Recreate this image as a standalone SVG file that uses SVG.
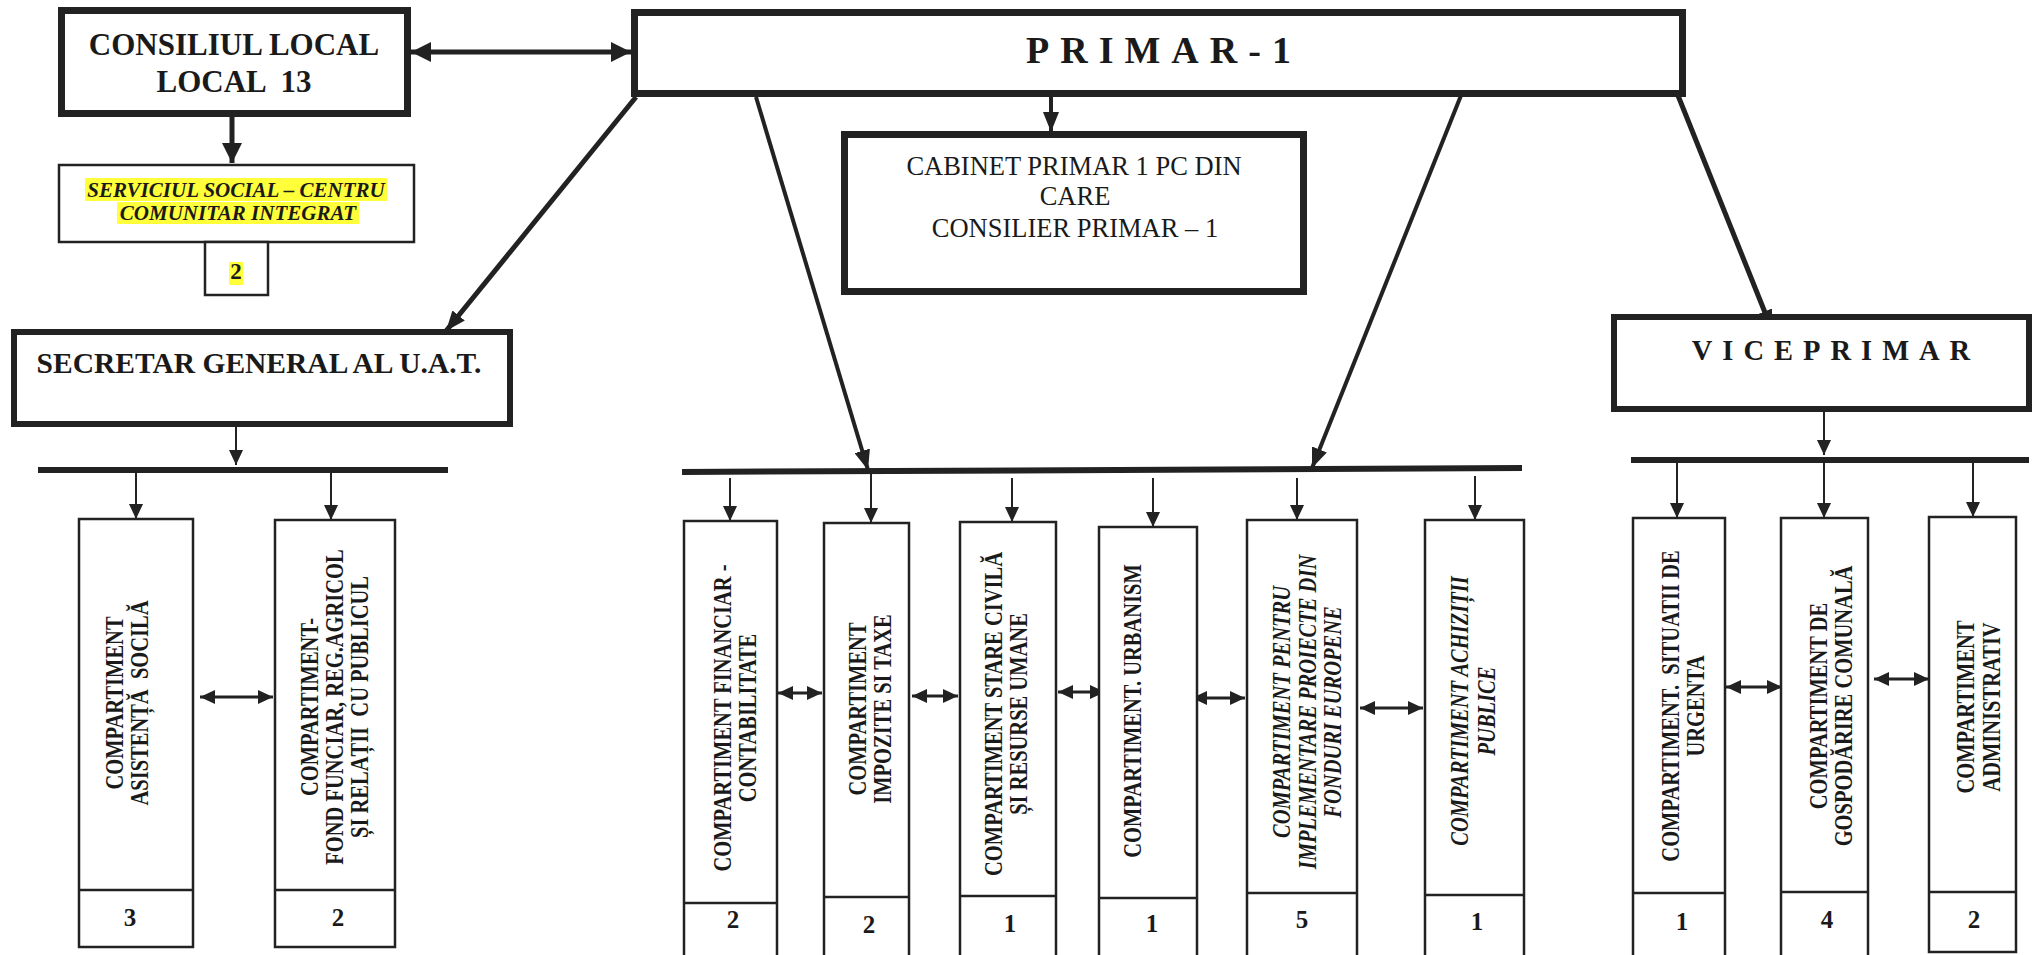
<svg xmlns="http://www.w3.org/2000/svg" width="2034" height="955" viewBox="0 0 2034 955">
<style>
.t{font-family:"Liberation Serif","Times New Roman",serif;fill:#1a1a1a}
.b{font-weight:bold}
.i{font-style:italic}
.pre{white-space:pre}
.v{font-size:25px;font-weight:bold}
.bx7{fill:#fff;stroke:#222;stroke-width:7}
.bx6{fill:#fff;stroke:#222;stroke-width:6}
.bx2{fill:#fff;stroke:#222;stroke-width:2.5}
.ln{stroke:#222;fill:none}
.hl{fill:#ffff3a}
</style>
<defs>
<marker id="mA" viewBox="0 0 15 14" refX="15" refY="7" markerWidth="15" markerHeight="14" markerUnits="userSpaceOnUse" orient="auto-start-reverse"><path d="M0,0L15,7L0,14z" fill="#222"/></marker>
<marker id="mB" viewBox="0 0 20 20" refX="20" refY="10" markerWidth="20" markerHeight="20" markerUnits="userSpaceOnUse" orient="auto-start-reverse"><path d="M0,0L20,10L0,20z" fill="#222"/></marker>
<marker id="mC" viewBox="0 0 20 16" refX="20" refY="8" markerWidth="20" markerHeight="16" markerUnits="userSpaceOnUse" orient="auto-start-reverse"><path d="M0,0L20,8L0,16z" fill="#222"/></marker>
</defs>
<rect width="2034" height="955" fill="#fff"/>

<g id="connectors">
  <line class="ln" x1="411" y1="52" x2="631" y2="52" stroke-width="5" marker-start="url(#mB)" marker-end="url(#mB)"/>
  <line class="ln" x1="232" y1="117" x2="232" y2="163" stroke-width="5" marker-end="url(#mB)"/>
  <line class="ln" x1="1051" y1="96" x2="1051" y2="132" stroke-width="4" marker-end="url(#mC)"/>
  <line class="ln" x1="636" y1="97" x2="446" y2="331" stroke-width="5" marker-end="url(#mC)"/>
  <line class="ln" x1="756" y1="97" x2="868" y2="470" stroke-width="4" marker-end="url(#mC)"/>
  <line class="ln" x1="1462" y1="93" x2="1312" y2="468" stroke-width="4" marker-end="url(#mC)"/>
  <line class="ln" x1="1677" y1="93" x2="1772" y2="330" stroke-width="5" marker-end="url(#mC)"/>
  <line class="ln" x1="236" y1="427" x2="236" y2="465" stroke-width="2" marker-end="url(#mA)"/>
  <line class="ln" x1="1824" y1="412" x2="1824" y2="455" stroke-width="2" marker-end="url(#mA)"/>
  <line class="ln" x1="38" y1="470" x2="448" y2="470" stroke-width="6"/>
  <line class="ln" x1="682" y1="472" x2="1522" y2="468" stroke-width="6"/>
  <line class="ln" x1="1631" y1="460" x2="2029" y2="460" stroke-width="6"/>
  <g stroke-width="2" class="ln">
    <line x1="136" y1="473" x2="136" y2="519" marker-end="url(#mA)"/>
    <line x1="331" y1="473" x2="331" y2="520" marker-end="url(#mA)"/>
    <line x1="730" y1="478" x2="730" y2="521" marker-end="url(#mA)"/>
    <line x1="871" y1="472" x2="871" y2="523" marker-end="url(#mA)"/>
    <line x1="1012" y1="478" x2="1012" y2="522" marker-end="url(#mA)"/>
    <line x1="1153" y1="478" x2="1153" y2="527" marker-end="url(#mA)"/>
    <line x1="1297" y1="478" x2="1297" y2="520" marker-end="url(#mA)"/>
    <line x1="1475" y1="476" x2="1475" y2="520" marker-end="url(#mA)"/>
    <line x1="1677" y1="463" x2="1677" y2="518" marker-end="url(#mA)"/>
    <line x1="1824" y1="463" x2="1824" y2="518" marker-end="url(#mA)"/>
    <line x1="1973" y1="463" x2="1973" y2="517" marker-end="url(#mA)"/>
  </g>
  <g stroke-width="3" class="ln">
    <line x1="200" y1="697" x2="273" y2="697" marker-start="url(#mA)" marker-end="url(#mA)"/>
    <line x1="778" y1="693" x2="822" y2="693" marker-start="url(#mA)" marker-end="url(#mA)"/>
    <line x1="912" y1="696" x2="958" y2="696" marker-start="url(#mA)" marker-end="url(#mA)"/>
    <line x1="1058" y1="692" x2="1105" y2="692" marker-start="url(#mA)" marker-end="url(#mA)"/>
    <line x1="1192" y1="698" x2="1245" y2="698" marker-start="url(#mA)" marker-end="url(#mA)"/>
    <line x1="1360" y1="708" x2="1423" y2="708" marker-start="url(#mA)" marker-end="url(#mA)"/>
    <line x1="1726" y1="687" x2="1782" y2="687" marker-start="url(#mA)" marker-end="url(#mA)"/>
    <line x1="1874" y1="679" x2="1929" y2="679" marker-start="url(#mA)" marker-end="url(#mA)"/>
  </g>
</g>

<g id="consiliul">
  <rect class="bx7" x="61.5" y="10.5" width="346" height="103"/>
  <text class="t b pre" x="234" y="55" font-size="31" text-anchor="middle">CONSILIUL LOCAL</text>
  <text class="t b pre" x="234" y="92" font-size="31" text-anchor="middle">LOCAL  13</text>
</g>

<g id="serviciul">
  <rect class="bx2" x="59" y="165" width="355" height="77" stroke-width="2"/>
  <rect class="hl" x="85" y="178" width="302" height="23"/>
  <rect class="hl" x="117" y="202" width="242" height="22"/>
  <text class="t b i" x="236" y="197" font-size="21" text-anchor="middle">SERVICIUL SOCIAL – CENTRU</text>
  <text class="t b i" x="238" y="220" font-size="21" text-anchor="middle">COMUNITAR INTEGRAT</text>
</g>

<g id="serviciul-nr">
  <rect class="bx2" x="205" y="242" width="63" height="53" stroke-width="2"/>
  <rect class="hl" x="229" y="262" width="14" height="23"/>
  <text class="t b" x="236" y="279" font-size="23" text-anchor="middle">2</text>
</g>

<g id="primar">
  <rect class="bx7" x="634.5" y="12.5" width="1048" height="81"/>
  <text class="t b" x="1164" y="63" font-size="38" letter-spacing="11" text-anchor="middle">PRIMAR-1</text>
</g>

<g id="cabinet">
  <rect class="bx7" x="844.5" y="134.5" width="459" height="157"/>
  <text class="t" x="1074" y="175" font-size="26.5" text-anchor="middle">CABINET PRIMAR 1 PC DIN</text>
  <text class="t" x="1075" y="205" font-size="26.5" text-anchor="middle">CARE</text>
  <text class="t" x="1075" y="237" font-size="26.5" text-anchor="middle">CONSILIER PRIMAR – 1</text>
</g>

<g id="secretar">
  <rect class="bx6" x="14" y="332" width="496" height="92"/>
  <text class="t b" x="259" y="373" font-size="29.5" text-anchor="middle">SECRETAR GENERAL AL U.A.T.</text>
</g>

<g id="viceprimar">
  <rect class="bx6" x="1614" y="317" width="415" height="92"/>
  <text class="t b" x="1836" y="360" font-size="28.5" letter-spacing="10" text-anchor="middle">VICEPRIMAR</text>
</g>

<g id="asistenta">
  <rect class="bx2" x="79" y="519" width="114" height="428"/>
  <line class="ln" x1="79" y1="890" x2="193" y2="890" stroke-width="2.5"/>
  <text class="t v pre" text-anchor="middle" transform="translate(136,703) rotate(-90) scale(0.82,1)"><tspan x="0" y="-13">COMPARTIMENT</tspan><tspan x="0" y="12">ASISTENȚĂ  SOCILĂ</tspan></text>
  <text class="t b" x="130" y="926" font-size="25" text-anchor="middle">3</text>
</g>

<g id="fond-funciar">
  <rect class="bx2" x="275" y="520" width="120" height="427"/>
  <line class="ln" x1="275" y1="890" x2="395" y2="890" stroke-width="2.5"/>
  <text class="t v pre" text-anchor="middle" transform="translate(335,707) rotate(-90) scale(0.82,1)"><tspan x="0" y="-17">COMPARTIMENT-</tspan><tspan x="0" y="8">FOND FUNCIAR, REG.AGRICOL</tspan><tspan x="0" y="33">ȘI RELAȚII  CU PUBLICUL</tspan></text>
  <text class="t b" x="338" y="926" font-size="25" text-anchor="middle">2</text>
</g>

<g id="financiar">
  <rect class="bx2" x="684" y="521" width="93" height="445"/>
  <line class="ln" x1="684" y1="903" x2="777" y2="903" stroke-width="2.5"/>
  <text class="t v" text-anchor="middle" transform="translate(730,718) rotate(-90) scale(0.82,1)"><tspan x="0" y="1">COMPARTIMENT FINANCIAR -</tspan><tspan x="0" y="26">CONTABILITATE</tspan></text>
  <text class="t b" x="733" y="928" font-size="25" text-anchor="middle">2</text>
</g>

<g id="impozite">
  <rect class="bx2" x="824" y="523" width="85" height="443"/>
  <line class="ln" x1="824" y1="897" x2="909" y2="897" stroke-width="2.5"/>
  <text class="t v" text-anchor="middle" transform="translate(866,709) rotate(-90) scale(0.82,1)"><tspan x="0" y="0">COMPARTIMENT</tspan><tspan x="0" y="25">IMPOZITE SI TAXE</tspan></text>
  <text class="t b" x="869" y="933" font-size="25" text-anchor="middle">2</text>
</g>

<g id="stare-civila">
  <rect class="bx2" x="960" y="522" width="96" height="444"/>
  <line class="ln" x1="960" y1="896" x2="1056" y2="896" stroke-width="2.5"/>
  <text class="t v" text-anchor="middle" transform="translate(1008,714) rotate(-90) scale(0.82,1)"><tspan x="0" y="-6">COMPARTIMENT STARE CIVILĂ</tspan><tspan x="0" y="19">ȘI RESURSE UMANE</tspan></text>
  <text class="t b" x="1010" y="932" font-size="25" text-anchor="middle">1</text>
</g>

<g id="urbanism">
  <rect class="bx2" x="1099" y="527" width="98" height="439"/>
  <line class="ln" x1="1099" y1="898" x2="1197" y2="898" stroke-width="2.5"/>
  <text class="t v" text-anchor="middle" transform="translate(1148,711) rotate(-90) scale(0.82,1)"><tspan x="0" y="-7">COMPARTIMENT. URBANISM</tspan></text>
  <text class="t b" x="1152" y="932" font-size="25" text-anchor="middle">1</text>
</g>

<g id="fonduri-europene">
  <rect class="bx2" x="1247" y="520" width="110" height="446"/>
  <line class="ln" x1="1247" y1="893" x2="1357" y2="893" stroke-width="2.5"/>
  <text class="t v i" text-anchor="middle" transform="translate(1302,712) rotate(-90) scale(0.82,1)"><tspan x="0" y="-12">COMPARTIMENT PENTRU</tspan><tspan x="0" y="14">IMPLEMENTARE PROIECTE DIN</tspan><tspan x="0" y="39">FONDURI EUROPENE</tspan></text>
  <text class="t b" x="1302" y="928" font-size="25" text-anchor="middle">5</text>
</g>

<g id="achizitii">
  <rect class="bx2" x="1425" y="520" width="99" height="446"/>
  <line class="ln" x1="1425" y1="895" x2="1524" y2="895" stroke-width="2.5"/>
  <text class="t v i" text-anchor="middle" transform="translate(1474,711) rotate(-90) scale(0.82,1)"><tspan x="0" y="-6">COMPARTIMENT ACHIZIȚII</tspan><tspan x="0" y="21">PUBLICE</tspan></text>
  <text class="t b" x="1477" y="930" font-size="25" text-anchor="middle">1</text>
</g>

<g id="situatii-urgenta">
  <rect class="bx2" x="1633" y="518" width="92" height="448"/>
  <line class="ln" x1="1633" y1="893" x2="1725" y2="893" stroke-width="2.5"/>
  <text class="t v pre" text-anchor="middle" transform="translate(1679,706) rotate(-90) scale(0.82,1)"><tspan x="0" y="0">COMPARTIMENT.  SITUATII DE</tspan><tspan x="0" y="25">URGENTA</tspan></text>
  <text class="t b" x="1682" y="930" font-size="25" text-anchor="middle">1</text>
</g>

<g id="gospodarire">
  <rect class="bx2" x="1781" y="518" width="87" height="448"/>
  <line class="ln" x1="1781" y1="892" x2="1868" y2="892" stroke-width="2.5"/>
  <text class="t v" text-anchor="middle" transform="translate(1824,706) rotate(-90) scale(0.82,1)"><tspan x="0" y="3">COMPARTIMENT DE</tspan><tspan x="0" y="28">GOSPODĂRIRE COMUNALĂ</tspan></text>
  <text class="t b" x="1827" y="928" font-size="25" text-anchor="middle">4</text>
</g>

<g id="administrativ">
  <rect class="bx2" x="1929" y="517" width="87" height="435"/>
  <line class="ln" x1="1929" y1="892" x2="2016" y2="892" stroke-width="2.5"/>
  <text class="t v" text-anchor="middle" transform="translate(1972,707) rotate(-90) scale(0.82,1)"><tspan x="0" y="2">COMPARTIMENT</tspan><tspan x="0" y="28">ADMINISTRATIV</tspan></text>
  <text class="t b" x="1974" y="928" font-size="25" text-anchor="middle">2</text>
</g>
</svg>
